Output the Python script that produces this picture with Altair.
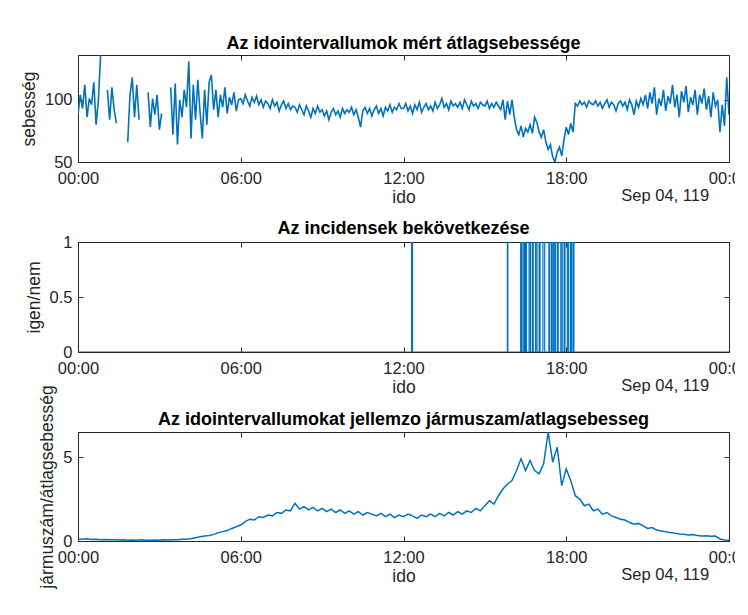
import altair as alt
import pandas as pd

# ---------------- data ----------------
# Panel 1: measured average speed, one value every 5 minutes (None = gap)
speed_step_min = 5
speed_values = [
    88, 104, 93, 112, 86, 101, 96, 114, 80, 99, 136, None,
    None, 108, 84, 110, 92, 81, None, None, None, None, 66, 104,
    118, 86, 112, 84, None, None, None, 106, 78, 101, 88, 104,
    76, 89, None, None, None, 110, 72, 113, 64, 100, 86, 108,
    94, 131, 69, 112, 84, 116, 90, 69, 108, 80, 114, 120,
    92, 108, 86, 104, 94, 110, 89, 102, 96, 106, 91, 100,
    101, 97, 104, 99, 95, 102, 98, 103, 96, 100, 94, 99,
    97, 93, 100, 95, 98, 91, 96, 99, 93, 97, 92, 95,
    94, 90, 96, 92, 88, 95, 91, 86, 93, 89, 95, 90,
    92, 87, 91, 84, 90, 93, 88, 91, 86, 93, 89, 92,
    90, 94, 88, 92, 86, 78, 91, 94, 89, 93, 87, 92,
    95, 89, 93, 87, 94, 91, 96, 90, 94, 92, 97, 93,
    93, 97, 91, 95, 89, 96, 92, 98, 90, 94, 97, 92,
    95, 91, 98, 93, 96, 101, 94, 97, 92, 99, 95, 97,
    94, 98, 93, 100, 96, 92, 99, 95, 97, 93, 98, 96,
    95, 99, 93, 97, 94, 98, 95, 92, 100, 84, 99, 88,
    100, 86, 76, 72, 79, 70, 77, 74, 80, 73, 86, 82,
    74, 70, 76, 66, 60, 64, 54, 50, 58, 62, 55, 68,
    78, 72, 81, 74, 97, 95, 99, 96, 98, 94, 99, 97,
    96, 99, 95, 98, 93, 97, 100, 94, 98, 96, 91, 97,
    99, 95, 98, 92, 100, 96, 88, 99, 94, 101, 96, 104,
    93, 106, 97, 110, 88, 101, 95, 108, 91, 103, 97, 112,
    94, 104, 86, 107, 98, 111, 90, 102, 96, 108, 88, 104,
    97, 109, 92, 103, 86, 106, 95, 100, 74, 96, 79, 118,
    88,
]

# Panel 2: incidents (start hour, duration in minutes)
incident_start_h = [12.30, 15.83, 16.32, 16.41, 16.50, 16.63, 16.75, 16.87,
                    17.00, 17.14, 17.36, 17.46, 17.55, 17.67, 17.80, 17.92,
                    18.04, 18.16, 18.25]
incident_len_min = [2, 1, 2, 3, 2, 3, 2, 3, 2, 4, 2, 3, 3, 2, 3, 2, 3, 2, 2]

# Panel 3: vehicle count / average speed, one value every 10 minutes
ratio_step_min = 10
ratio_values = [
    0.12, 0.10, 0.13, 0.09, 0.11, 0.08,
    0.09, 0.07, 0.08, 0.06, 0.08, 0.05,
    0.06, 0.05, 0.07, 0.04, 0.05, 0.06,
    0.05, 0.07, 0.06, 0.08, 0.07, 0.10,
    0.10, 0.14, 0.20, 0.26, 0.30, 0.33,
    0.38, 0.50, 0.56, 0.62, 0.75, 0.85,
    0.95, 1.15, 1.30, 1.25, 1.45, 1.40,
    1.55, 1.50, 1.70, 1.65, 1.85, 1.80,
    2.25, 1.90, 2.05, 1.85, 2.00, 1.80,
    1.95, 1.75, 1.90, 1.70, 1.85, 1.65,
    1.80, 1.60, 1.75, 1.55, 1.70, 1.60,
    1.50, 1.65, 1.45, 1.60, 1.40, 1.55,
    1.45, 1.60, 1.50, 1.35, 1.55, 1.45,
    1.60, 1.45, 1.65, 1.50, 1.70, 1.55,
    1.75, 1.60, 1.80, 1.70, 1.95, 1.80,
    2.10, 2.40, 2.20, 2.70, 3.10, 3.40,
    3.60, 4.20, 4.90, 4.20, 4.80, 4.20,
    4.00, 4.60, 6.50, 4.70, 5.60, 3.30,
    4.30, 3.60, 2.70, 2.50, 2.10, 2.20,
    1.80, 1.90, 1.60, 1.70, 1.50, 1.40,
    1.30, 1.25, 1.10, 1.00, 1.05, 0.90,
    0.75, 0.80, 0.65, 0.60, 0.55, 0.50,
    0.47, 0.42, 0.40, 0.36, 0.38, 0.33,
    0.30, 0.32, 0.28, 0.30, 0.12, 0.06,
    0.05,
]

panel_titles = ["Az idointervallumok mért átlagsebessége",
                "Az incidensek bekövetkezése",
                "Az idointervallumokat jellemzo jármuszam/atlagsebesseg"]
y_titles = ["sebesség", "igen/nem", "jármuszám/átlagsebesség"]
x_title = "ido"
date_label = "Sep 04, 119"
x_ticks = [0, 6, 12, 18, 24]
y_ticks = [[50, 100], [0, 0.5, 1], [0, 5]]
y_domains = [[50, 136], [0, 1], [0, 6.5]]

# ---------------- build tables ----------------
speed_df = pd.DataFrame({
    "h": [i * speed_step_min / 60 for i in range(len(speed_values))],
    "v": speed_values,
})
speed_df["k"] = range(len(speed_df))

rows = [(0.0, 0.0)]
for t, d in zip(incident_start_h, incident_len_min):
    rows += [(t, 0.0), (t, 1.0), (t + d / 60, 1.0), (t + d / 60, 0.0)]
rows.append((24.0, 0.0))
inc_df = pd.DataFrame(rows, columns=["h", "v"])
inc_df["k"] = range(len(inc_df))

ratio_df = pd.DataFrame({
    "h": [i * ratio_step_min / 60 for i in range(len(ratio_values))],
    "v": ratio_values,
})
ratio_df["k"] = range(len(ratio_df))

# ---------------- styling ----------------
FONT = "Liberation Sans"
BLUE = "#0072BD"
AX = "#262626"
W = 651
HEIGHTS = [107, 110, 109]
TITLE_OFFSETS = [2, -4, -44]
LINE_WIDTHS = [1.6, 1.2, 1.5]
DATE_X = 21.65
TICK = 5

x_label_expr = ("datum.value % 24 == 0 ? '00:00' : "
                "(datum.value < 10 ? '0' : '') + datum.value + ':00'")
y_label_expr = "'' + datum.value"


def panel(df, idx):
    H = HEIGHTS[idx]
    xs = alt.Scale(domain=[0, 24], nice=False, zero=False)
    ys = alt.Scale(domain=y_domains[idx], nice=False, zero=False)
    main = alt.Chart(df).mark_line(
        color=BLUE, strokeWidth=LINE_WIDTHS[idx], clip=True,
        invalid="break-paths-filter-domains",
    ).encode(
        x=alt.X("h:Q", scale=xs, axis=alt.Axis(
            orient="bottom", values=x_ticks, labelExpr=x_label_expr,
            title=x_title, offset=-TICK, tickSize=TICK, domain=False,
            grid=False, labelPadding=8, titlePadding=2, labelFontSize=16.5,
            titleFontSize=17.5, labelColor=AX, titleColor=AX, tickColor=AX,
            labelFont=FONT, titleFont=FONT, titleFontWeight="normal",
            labelFlush=False, labelOverlap=False)),
        y=alt.Y("v:Q", scale=ys, axis=alt.Axis(
            orient="left", values=y_ticks[idx], labelExpr=y_label_expr,
            title=y_titles[idx], offset=-TICK, tickSize=TICK, domain=False,
            grid=False, labelPadding=6, titlePadding=6, labelFontSize=16.5,
            titleFontSize=17.5, labelColor=AX, titleColor=AX, tickColor=AX,
            labelFont=FONT, titleFont=FONT, titleFontWeight="normal",
            labelFlush=False, labelOverlap=False)),
        order="k:Q",
    )
    mirror = alt.Chart(df).mark_line(opacity=0).encode(
        x=alt.X("h:Q", scale=xs, axis=alt.Axis(
            orient="top", values=x_ticks, labels=False, title=None,
            offset=-TICK, tickSize=TICK, domain=False, grid=False,
            tickColor=AX)),
        y=alt.Y("v:Q", scale=ys, axis=alt.Axis(
            orient="right", values=y_ticks[idx], labels=False, title=None,
            offset=-TICK, tickSize=TICK, domain=False, grid=False,
            tickColor=AX)),
        order="k:Q",
    )
    date_df = pd.DataFrame({"h": [DATE_X], "t": [date_label]})
    date_txt = alt.Chart(date_df).mark_text(
        font=FONT, fontSize=16.5, color=AX, baseline="top", align="center",
    ).encode(
        x=alt.X("h:Q", scale=xs, axis=None),
        y=alt.value(H + 26),
        text="t:N",
    )
    return alt.layer(main, mirror, date_txt).properties(
        width=W, height=H,
        title=alt.TitleParams(panel_titles[idx], font=FONT, fontSize=18,
                              fontWeight="bold", color="black",
                              offset=TITLE_OFFSETS[idx], frame="group"),
    )


chart = alt.vconcat(
    panel(speed_df, 0), panel(inc_df, 1), panel(ratio_df, 2),
    spacing=80, bounds="flush",
).properties(
    padding={"left": 11, "top": 26, "right": -16, "bottom": 4},
    background="white",
).configure_view(stroke=AX, strokeWidth=1)

chart.save("out.html", embed_options={"renderer": "svg", "actions": False})
